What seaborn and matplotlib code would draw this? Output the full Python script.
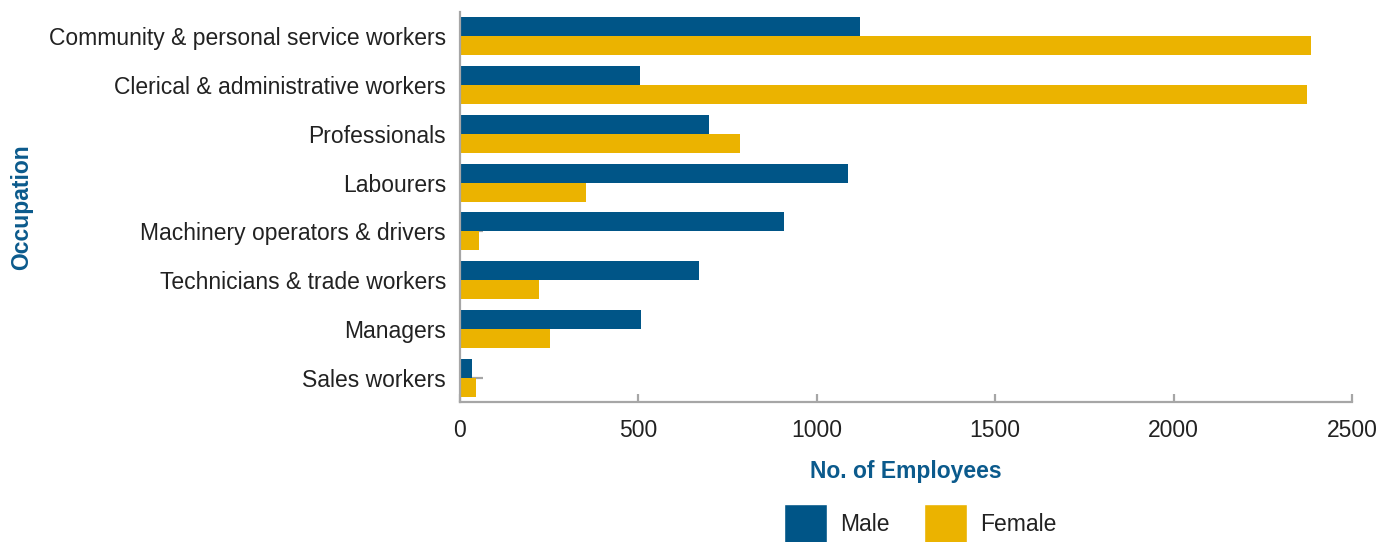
import matplotlib
matplotlib.use("Agg")
import matplotlib.pyplot as plt
from matplotlib.patches import Patch
import seaborn as sns
import pandas as pd

occupations = [
    "Community & personal service workers",
    "Clerical & administrative workers",
    "Professionals",
    "Labourers",
    "Machinery operators & drivers",
    "Technicians & trade workers",
    "Managers",
    "Sales workers",
]
male = [1121, 504, 698, 1087, 908, 670, 507, 34]
female = [2385, 2374, 785, 353, 53, 221, 252, 45]
genders = ["Male", "Female"]
x_ticks = [0, 500, 1000, 1500, 2000, 2500]

MALE_C = "#005587"
FEMALE_C = "#ebb300"
AXIS_C = "#a6a6a6"
TEXT_C = "#222222"
LABEL_C = "#0b5a8c"
FS = 16.5

df = pd.DataFrame({
    "Occupation": occupations * 2,
    "Employees": male + female,
    "Gender": ["Male"] * len(male) + ["Female"] * len(female),
})

sns.set_theme(style="white")
plt.rcParams["font.family"] = ["Liberation Sans", "DejaVu Sans"]

fig = plt.figure(figsize=(13.95, 5.42), dpi=100)
ax = fig.add_axes([460 / 1395, 1 - 402 / 542, 892 / 1395, 390 / 542])
ax.set_axisbelow(True)

sns.barplot(
    data=df, y="Occupation", x="Employees", hue="Gender",
    order=occupations, hue_order=genders,
    palette=[MALE_C, FEMALE_C], orient="h", width=0.78,
    saturation=1, linewidth=0, ax=ax, legend=False,
)

ax.set_xlim(0, 2500)
ax.set_ylim(len(occupations) - 0.5, -0.5)
ax.set_xticks(x_ticks)
ax.set_xticklabels([str(t) for t in x_ticks])

for side in ["top", "right"]:
    ax.spines[side].set_visible(False)
for side in ["left", "bottom"]:
    ax.spines[side].set_color(AXIS_C)
    ax.spines[side].set_linewidth(1.6)

ax.tick_params(axis="x", bottom=True, direction="in", length=6, width=1.6,
               color=AXIS_C, labelsize=FS, labelcolor=TEXT_C, pad=12)
ax.tick_params(axis="y", left=True, direction="in", length=16.5, width=1.6,
               color=AXIS_C, labelsize=FS, labelcolor=TEXT_C, pad=10)

ax.set_xlabel("No. of Employees", fontsize=FS, fontweight="bold",
              color=LABEL_C, labelpad=13)
ax.set_ylabel("Occupation", fontsize=FS, fontweight="bold", color=LABEL_C)
ax.yaxis.set_label_coords(-0.4935 + 13 / 892, 0.5)

handles = [Patch(facecolor=MALE_C, label="Male"),
           Patch(facecolor=FEMALE_C, label="Female")]
fig.legend(handles=handles, loc="lower center", bbox_to_anchor=(920 / 1395, -0.04),
           ncol=2, frameon=False, fontsize=FS, handlelength=1.9,
           handleheight=2.25, handletextpad=0.55, columnspacing=1.5,
           labelcolor=TEXT_C)

fig.savefig("out.png", dpi=100)
